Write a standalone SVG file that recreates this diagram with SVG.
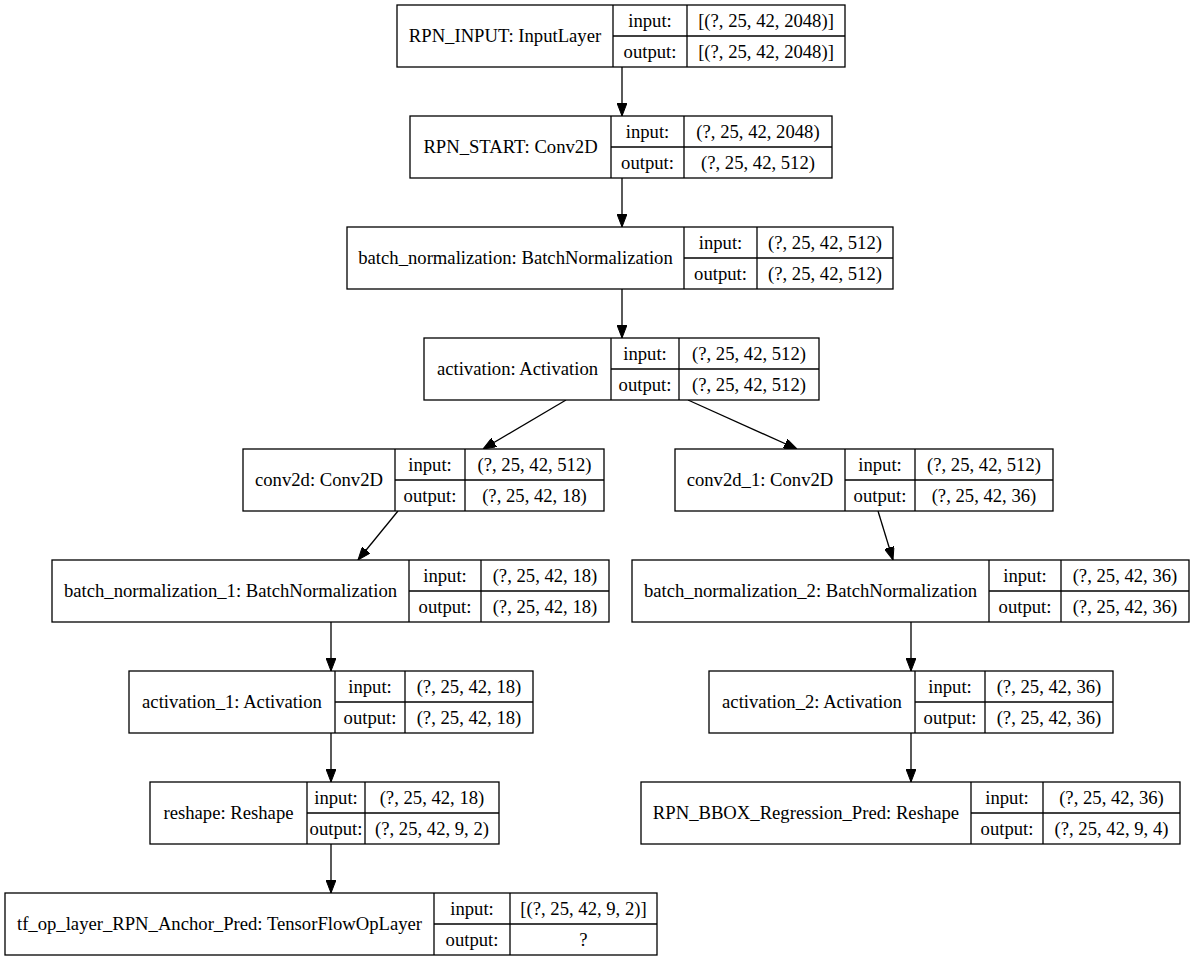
<svg xmlns="http://www.w3.org/2000/svg" width="1195" height="959" viewBox="0 0 1195 959">
<style>
rect.b{fill:#fff;stroke:#000;stroke-width:1.3}
line.d{stroke:#000;stroke-width:1.3}
text{font-family:"Liberation Serif","Times New Roman",serif;font-size:18.67px;fill:#000;text-anchor:middle}
.e{stroke:#000;stroke-width:1.3;fill:none}
</style>
<defs>
<marker id="ah" viewBox="0 0 13 10" refX="13" refY="5" markerWidth="13" markerHeight="10" markerUnits="userSpaceOnUse" orient="auto">
<path d="M0,0 L13,5 L0,10 z" fill="#000" stroke="#000" stroke-width="1"/>
</marker>
</defs>
<rect width="1195" height="959" fill="#fff"/>
<g id="connectors">
<line class="e" x1="622" y1="67" x2="622" y2="116" marker-end="url(#ah)"/>
<line class="e" x1="622" y1="178" x2="622" y2="227" marker-end="url(#ah)"/>
<line class="e" x1="622" y1="289" x2="622" y2="338" marker-end="url(#ah)"/>
<line class="e" x1="566" y1="400" x2="483" y2="449" marker-end="url(#ah)"/>
<line class="e" x1="688" y1="400" x2="797" y2="449" marker-end="url(#ah)"/>
<line class="e" x1="398" y1="511" x2="358" y2="560" marker-end="url(#ah)"/>
<line class="e" x1="878" y1="511" x2="893" y2="560" marker-end="url(#ah)"/>
<line class="e" x1="331" y1="622" x2="331" y2="671" marker-end="url(#ah)"/>
<line class="e" x1="911" y1="622" x2="911" y2="671" marker-end="url(#ah)"/>
<line class="e" x1="331" y1="733" x2="331" y2="782" marker-end="url(#ah)"/>
<line class="e" x1="911" y1="733" x2="911" y2="782" marker-end="url(#ah)"/>
<line class="e" x1="331" y1="844" x2="331" y2="893" marker-end="url(#ah)"/>
</g>
<g id="n1">
<rect class="b" x="397" y="5" width="448" height="62"/>
<line class="d" x1="613" y1="5" x2="613" y2="67"/><line class="d" x1="687" y1="5" x2="687" y2="67"/><line class="d" x1="613" y1="36" x2="845" y2="36"/>
<text x="505" y="42">RPN_INPUT: InputLayer</text>
<text x="650" y="26.5">input:</text><text x="766" y="26.5">[(?, 25, 42, 2048)]</text>
<text x="650" y="57.5">output:</text><text x="766" y="57.5">[(?, 25, 42, 2048)]</text>
</g>
<g id="n2">
<rect class="b" x="410" y="116" width="422" height="62"/>
<line class="d" x1="611" y1="116" x2="611" y2="178"/><line class="d" x1="684" y1="116" x2="684" y2="178"/><line class="d" x1="611" y1="147" x2="832" y2="147"/>
<text x="510.5" y="153">RPN_START: Conv2D</text>
<text x="647.5" y="137.5">input:</text><text x="758" y="137.5">(?, 25, 42, 2048)</text>
<text x="647.5" y="168.5">output:</text><text x="758" y="168.5">(?, 25, 42, 512)</text>
</g>
<g id="n3">
<rect class="b" x="347" y="227" width="546" height="62"/>
<line class="d" x1="684" y1="227" x2="684" y2="289"/><line class="d" x1="757" y1="227" x2="757" y2="289"/><line class="d" x1="684" y1="258" x2="893" y2="258"/>
<text x="515.5" y="264">batch_normalization: BatchNormalization</text>
<text x="720.5" y="248.5">input:</text><text x="825" y="248.5">(?, 25, 42, 512)</text>
<text x="720.5" y="279.5">output:</text><text x="825" y="279.5">(?, 25, 42, 512)</text>
</g>
<g id="n4">
<rect class="b" x="424" y="338" width="395" height="62"/>
<line class="d" x1="611" y1="338" x2="611" y2="400"/><line class="d" x1="679" y1="338" x2="679" y2="400"/><line class="d" x1="611" y1="369" x2="819" y2="369"/>
<text x="517.5" y="375">activation: Activation</text>
<text x="645" y="359.5">input:</text><text x="749" y="359.5">(?, 25, 42, 512)</text>
<text x="645" y="390.5">output:</text><text x="749" y="390.5">(?, 25, 42, 512)</text>
</g>
<g id="n5">
<rect class="b" x="243" y="449" width="361" height="62"/>
<line class="d" x1="395" y1="449" x2="395" y2="511"/><line class="d" x1="465" y1="449" x2="465" y2="511"/><line class="d" x1="395" y1="480" x2="604" y2="480"/>
<text x="319" y="486">conv2d: Conv2D</text>
<text x="430" y="470.5">input:</text><text x="534.5" y="470.5">(?, 25, 42, 512)</text>
<text x="430" y="501.5">output:</text><text x="534.5" y="501.5">(?, 25, 42, 18)</text>
</g>
<g id="n6">
<rect class="b" x="675" y="449" width="378" height="62"/>
<line class="d" x1="845" y1="449" x2="845" y2="511"/><line class="d" x1="915" y1="449" x2="915" y2="511"/><line class="d" x1="845" y1="480" x2="1053" y2="480"/>
<text x="760" y="486">conv2d_1: Conv2D</text>
<text x="880" y="470.5">input:</text><text x="984" y="470.5">(?, 25, 42, 512)</text>
<text x="880" y="501.5">output:</text><text x="984" y="501.5">(?, 25, 42, 36)</text>
</g>
<g id="n7">
<rect class="b" x="52" y="560" width="557" height="62"/>
<line class="d" x1="409" y1="560" x2="409" y2="622"/><line class="d" x1="481" y1="560" x2="481" y2="622"/><line class="d" x1="409" y1="591" x2="609" y2="591"/>
<text x="230.5" y="597">batch_normalization_1: BatchNormalization</text>
<text x="445" y="581.5">input:</text><text x="545" y="581.5">(?, 25, 42, 18)</text>
<text x="445" y="612.5">output:</text><text x="545" y="612.5">(?, 25, 42, 18)</text>
</g>
<g id="n8">
<rect class="b" x="632" y="560" width="557" height="62"/>
<line class="d" x1="989" y1="560" x2="989" y2="622"/><line class="d" x1="1061" y1="560" x2="1061" y2="622"/><line class="d" x1="989" y1="591" x2="1189" y2="591"/>
<text x="810.5" y="597">batch_normalization_2: BatchNormalization</text>
<text x="1025" y="581.5">input:</text><text x="1125" y="581.5">(?, 25, 42, 36)</text>
<text x="1025" y="612.5">output:</text><text x="1125" y="612.5">(?, 25, 42, 36)</text>
</g>
<g id="n9">
<rect class="b" x="129" y="671" width="404" height="62"/>
<line class="d" x1="335" y1="671" x2="335" y2="733"/><line class="d" x1="405" y1="671" x2="405" y2="733"/><line class="d" x1="335" y1="702" x2="533" y2="702"/>
<text x="232" y="708">activation_1: Activation</text>
<text x="370" y="692.5">input:</text><text x="469" y="692.5">(?, 25, 42, 18)</text>
<text x="370" y="723.5">output:</text><text x="469" y="723.5">(?, 25, 42, 18)</text>
</g>
<g id="n10">
<rect class="b" x="709" y="671" width="404" height="62"/>
<line class="d" x1="915" y1="671" x2="915" y2="733"/><line class="d" x1="985" y1="671" x2="985" y2="733"/><line class="d" x1="915" y1="702" x2="1113" y2="702"/>
<text x="812" y="708">activation_2: Activation</text>
<text x="950" y="692.5">input:</text><text x="1049" y="692.5">(?, 25, 42, 36)</text>
<text x="950" y="723.5">output:</text><text x="1049" y="723.5">(?, 25, 42, 36)</text>
</g>
<g id="n11">
<rect class="b" x="150" y="782" width="349" height="62"/>
<line class="d" x1="307" y1="782" x2="307" y2="844"/><line class="d" x1="365" y1="782" x2="365" y2="844"/><line class="d" x1="307" y1="813" x2="499" y2="813"/>
<text x="228.5" y="819">reshape: Reshape</text>
<text x="336" y="803.5">input:</text><text x="432" y="803.5">(?, 25, 42, 18)</text>
<text x="336" y="834.5">output:</text><text x="432" y="834.5">(?, 25, 42, 9, 2)</text>
</g>
<g id="n12">
<rect class="b" x="641" y="782" width="539" height="62"/>
<line class="d" x1="971" y1="782" x2="971" y2="844"/><line class="d" x1="1043" y1="782" x2="1043" y2="844"/><line class="d" x1="971" y1="813" x2="1180" y2="813"/>
<text x="806" y="819">RPN_BBOX_Regression_Pred: Reshape</text>
<text x="1007" y="803.5">input:</text><text x="1111.5" y="803.5">(?, 25, 42, 36)</text>
<text x="1007" y="834.5">output:</text><text x="1111.5" y="834.5">(?, 25, 42, 9, 4)</text>
</g>
<g id="n13">
<rect class="b" x="5" y="893" width="652" height="62"/>
<line class="d" x1="434" y1="893" x2="434" y2="955"/><line class="d" x1="510" y1="893" x2="510" y2="955"/><line class="d" x1="434" y1="924" x2="657" y2="924"/>
<text x="219.5" y="930">tf_op_layer_RPN_Anchor_Pred: TensorFlowOpLayer</text>
<text x="472" y="914.5">input:</text><text x="583.5" y="914.5">[(?, 25, 42, 9, 2)]</text>
<text x="472" y="945.5">output:</text><text x="583.5" y="945.5">?</text>
</g>
</svg>
